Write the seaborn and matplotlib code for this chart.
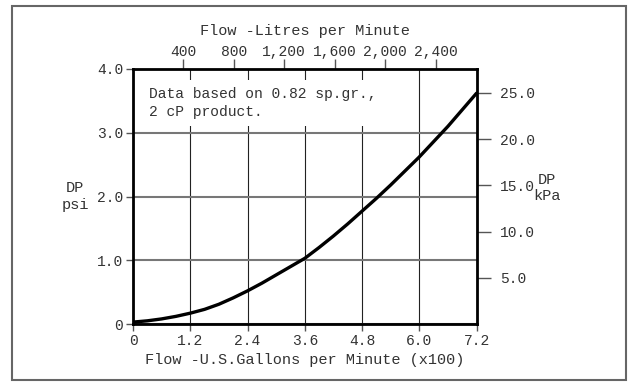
import matplotlib
matplotlib.use("Agg")
import matplotlib.pyplot as plt
import seaborn as sns
from matplotlib.patches import Rectangle

# flow in US gallons per minute (x100) vs pressure drop in psi
flow_gpm100 = [0.0, 0.3, 0.6, 0.9, 1.2, 1.5, 1.8, 2.1, 2.4, 2.7, 3.0, 3.3, 3.6,
               3.9, 4.2, 4.5, 4.8, 5.1, 5.4, 5.7, 6.0, 6.3, 6.6, 6.9, 7.2]
dp_psi = [0.03, 0.05, 0.08, 0.12, 0.17, 0.23, 0.31, 0.41, 0.52, 0.64, 0.77, 0.90, 1.03,
          1.20, 1.38, 1.57, 1.77, 1.97, 2.18, 2.40, 2.62, 2.86, 3.10, 3.36, 3.62]

x_ticks = [0, 1.2, 2.4, 3.6, 4.8, 6.0, 7.2]
x_labels = ["0", "1.2", "2.4", "3.6", "4.8", "6.0", "7.2"]
y_ticks = [0, 1, 2, 3, 4]
y_labels = ["0", "1.0", "2.0", "3.0", "4.0"]
lpm_ticks = [400, 800, 1200, 1600, 2000, 2400]
lpm_labels = ["400", "800", "1,200", "1,600", "2,000", "2,400"]
kpa_ticks = [5, 10, 15, 20, 25]
kpa_labels = ["5.0", "10.0", "15.0", "20.0", "25.0"]

LITRES_PER_100GAL = 378.5
KPA_PER_PSI = 6.895

sns.set_style("white")
plt.rcParams["font.family"] = ["Liberation Mono", "DejaVu Sans"]
txt = "#333333"

fig = plt.figure(figsize=(6.28, 3.82), dpi=100)
ax = fig.add_axes([0.2118, 0.1518, 0.5470, 0.6676])

sns.lineplot(x=flow_gpm100, y=dp_psi, ax=ax, color="black", linewidth=2.4)

ax.set_xlim(0, 7.2)
ax.set_ylim(0, 4)
ax.set_xticks(x_ticks, x_labels, fontsize=10.5, color=txt)
ax.set_yticks(y_ticks, y_labels, fontsize=10.5, color=txt)
ax.tick_params(axis="x", direction="out", length=5, width=1, pad=2, colors="#555555",
               labelcolor=txt, bottom=True)
ax.tick_params(axis="y", direction="out", length=5, width=1, pad=2, colors="#555555",
               labelcolor=txt, left=True)

ax.xaxis.grid(True, color="#222222", linewidth=0.8)
ax.yaxis.grid(True, color="#777777", linewidth=1.5)
for s in ax.spines.values():
    s.set_color("black")
    s.set_linewidth(2)
    s.set_visible(True)

ax.set_xlabel("Flow -U.S.Gallons per Minute (x100)", fontsize=11, color=txt, va="center")
ax.xaxis.set_label_coords(0.5, -0.141)
ax.set_ylabel("DP\npsi", fontsize=11, color=txt, rotation=0, va="center", ha="center")
ax.yaxis.set_label_coords(-0.169, 0.5)

top = ax.secondary_xaxis("top", functions=(lambda g: g * LITRES_PER_100GAL,
                                           lambda l: l / LITRES_PER_100GAL))
top.set_xticks(lpm_ticks, lpm_labels, fontsize=10.5, color=txt)
top.tick_params(direction="out", length=7, width=1, pad=0, colors="#555555", labelcolor=txt)
top.spines["top"].set_visible(False)
top.set_xlabel("Flow -Litres per Minute", fontsize=11, color=txt, va="center")
top.xaxis.set_label_coords(0.5, 1.15, transform=ax.transAxes)

right = ax.secondary_yaxis("right", functions=(lambda p: p * KPA_PER_PSI,
                                               lambda k: k / KPA_PER_PSI))
right.set_yticks(kpa_ticks, kpa_labels, fontsize=10.5, color=txt)
right.tick_params(direction="out", length=10, width=1, pad=7, colors="#555555", labelcolor=txt)
right.spines["right"].set_visible(False)
right.set_ylabel("DP\nkPa", fontsize=11, color=txt, rotation=0, va="center", ha="center")
right.yaxis.set_label_coords(1.205, 0.533, transform=ax.transAxes)

ax.text(0.047, 0.93, "Data based on 0.82 sp.gr.,\n2 cP product.", transform=ax.transAxes,
        ha="left", va="top", fontsize=10.5, color=txt, linespacing=1.35, zorder=5,
        bbox=dict(facecolor="white", edgecolor="none", pad=5))

fig.patches.append(Rectangle((0.0199, 0.0052), 0.9769, 0.9791, transform=fig.transFigure,
                             fill=False, edgecolor="#666666", linewidth=1.5))

fig.savefig("out.png", dpi=100, facecolor="white")
